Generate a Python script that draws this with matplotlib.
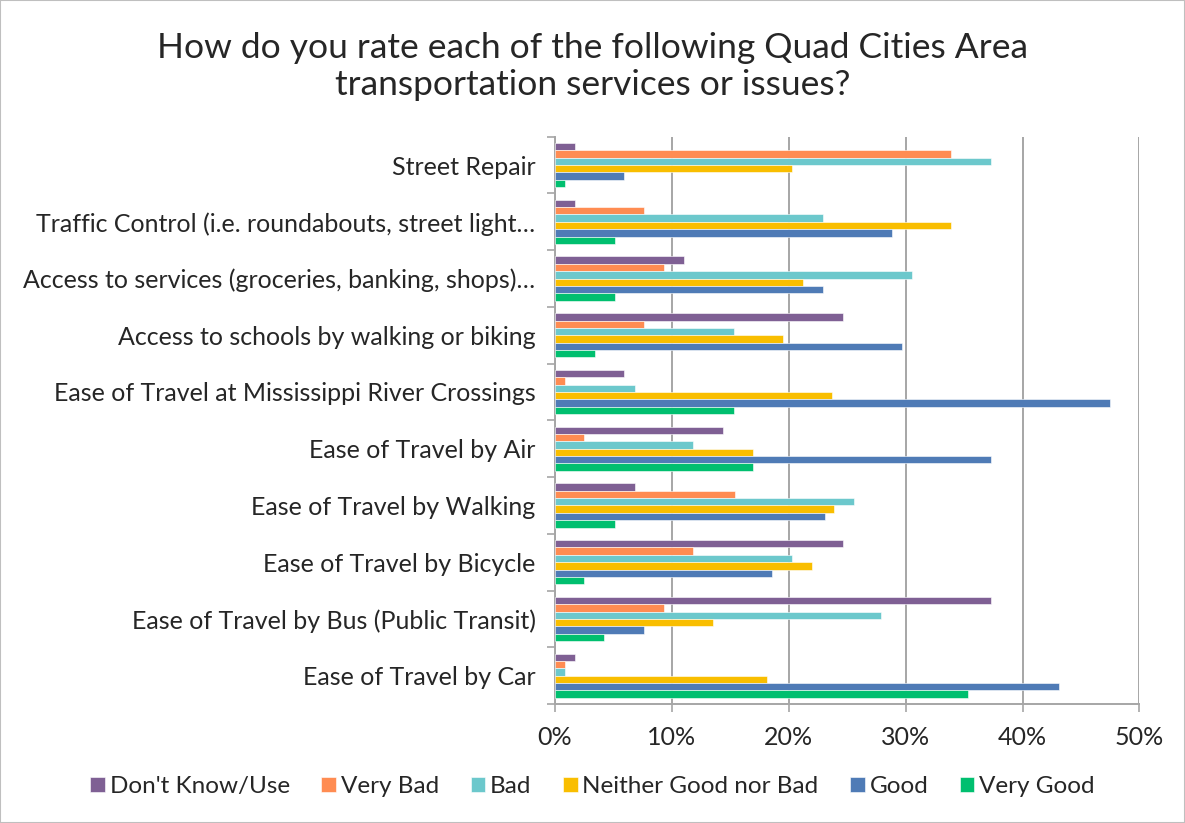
import numpy as np
import matplotlib
matplotlib.use("Agg")
from matplotlib import pyplot as plt
from matplotlib.ticker import FuncFormatter, FixedLocator

categories = [
    "Street Repair",
    "Traffic Control (i.e. roundabouts, street light\u2026",
    "Access to services (groceries, banking, shops)\u2026",
    "Access to schools by walking or biking",
    "Ease of Travel at Mississippi River Crossings",
    "Ease of Travel by Air",
    "Ease of Travel by Walking",
    "Ease of Travel by Bicycle",
    "Ease of Travel by Bus (Public Transit)",
    "Ease of Travel by Car",
]

series_names = ["Don't Know/Use", "Very Bad", "Bad", "Neither Good nor Bad", "Good", "Very Good"]

dont_know = [1.7, 1.7, 11.0, 24.6, 5.9, 14.4, 6.8, 24.6, 37.3, 1.7]
very_bad = [33.9, 7.6, 9.3, 7.6, 0.85, 2.5, 15.4, 11.8, 9.3, 0.85]
bad = [37.3, 22.9, 30.5, 15.3, 6.8, 11.8, 25.6, 20.3, 27.9, 0.85]
neither = [20.3, 33.9, 21.2, 19.5, 23.7, 16.9, 23.9, 22.0, 13.5, 18.1]
good = [5.9, 28.8, 22.9, 29.7, 47.5, 37.3, 23.1, 18.6, 7.6, 43.1]
very_good = [0.85, 5.1, 5.1, 3.4, 15.3, 16.9, 5.1, 2.5, 4.2, 35.3]

colors = ["#7f6094", "#ff8c52", "#6cc8cc", "#f9be00", "#4f7bb6", "#00bf6f"]

txt = "#262626"
grid_c = "#a6a6a6"
plt.rcParams["font.family"] = ["Lato", "DejaVu Sans"]

fig = plt.figure(figsize=(11.85, 8.23), dpi=100)
ax = fig.add_axes([0.4684, 0.1446, 0.4932, 0.6893])

data = [dont_know, very_bad, bad, neither, good, very_good]
y = np.arange(len(categories))
h = 0.13
for i, vals in enumerate(data):
    ax.barh(y + (i - 2.5) * h, vals, height=h, color=colors[i],
            edgecolor="white", linewidth=0.4, label=series_names[i], zorder=3)

ax.set_xlim(0, 50)
ax.set_ylim(len(categories) - 0.5, -0.5)
ax.set_xticks(np.arange(0, 51, 10))
ax.xaxis.set_major_formatter(FuncFormatter(lambda v, p: f"{v:.0f}%"))
ax.grid(axis="x", color=grid_c, linewidth=1.4, zorder=0)

ax.yaxis.set_major_locator(FixedLocator(np.arange(-0.5, len(categories), 1)))
ax.yaxis.set_minor_locator(FixedLocator(y))
ax.set_yticklabels([""] * (len(categories) + 1))
ax.set_yticklabels(categories, minor=True)
ax.tick_params(axis="y", which="major", length=6, width=1.2, color=grid_c, direction="out")
ax.tick_params(axis="y", which="minor", length=0, pad=14, labelsize=18, labelcolor=txt)
ax.tick_params(axis="x", length=6, width=1.2, color=grid_c, labelsize=18, labelcolor=txt, pad=10)

for s in ["top", "right"]:
    ax.spines[s].set_visible(False)
for s in ["left", "bottom"]:
    ax.spines[s].set_color(grid_c)
    ax.spines[s].set_linewidth(1.4)

fig.text(0.5, 0.919, "How do you rate each of the following Quad Cities Area\ntransportation services or issues?",
         ha="center", va="center", fontsize=25.5, color=txt, linespacing=1.2)

fig.legend(loc="center", bbox_to_anchor=(0.5, 0.044), ncol=6, frameon=False,
           fontsize=17.5, handlelength=0.6, handleheight=0.6, handletextpad=0.2,
           columnspacing=1.3, labelcolor=txt)

fig.patches.append(plt.Rectangle((0, 0), 1, 1, transform=fig.transFigure,
                                 fill=False, edgecolor="#bfbfbf", linewidth=1.5))

fig.savefig("out.png", dpi=100)
